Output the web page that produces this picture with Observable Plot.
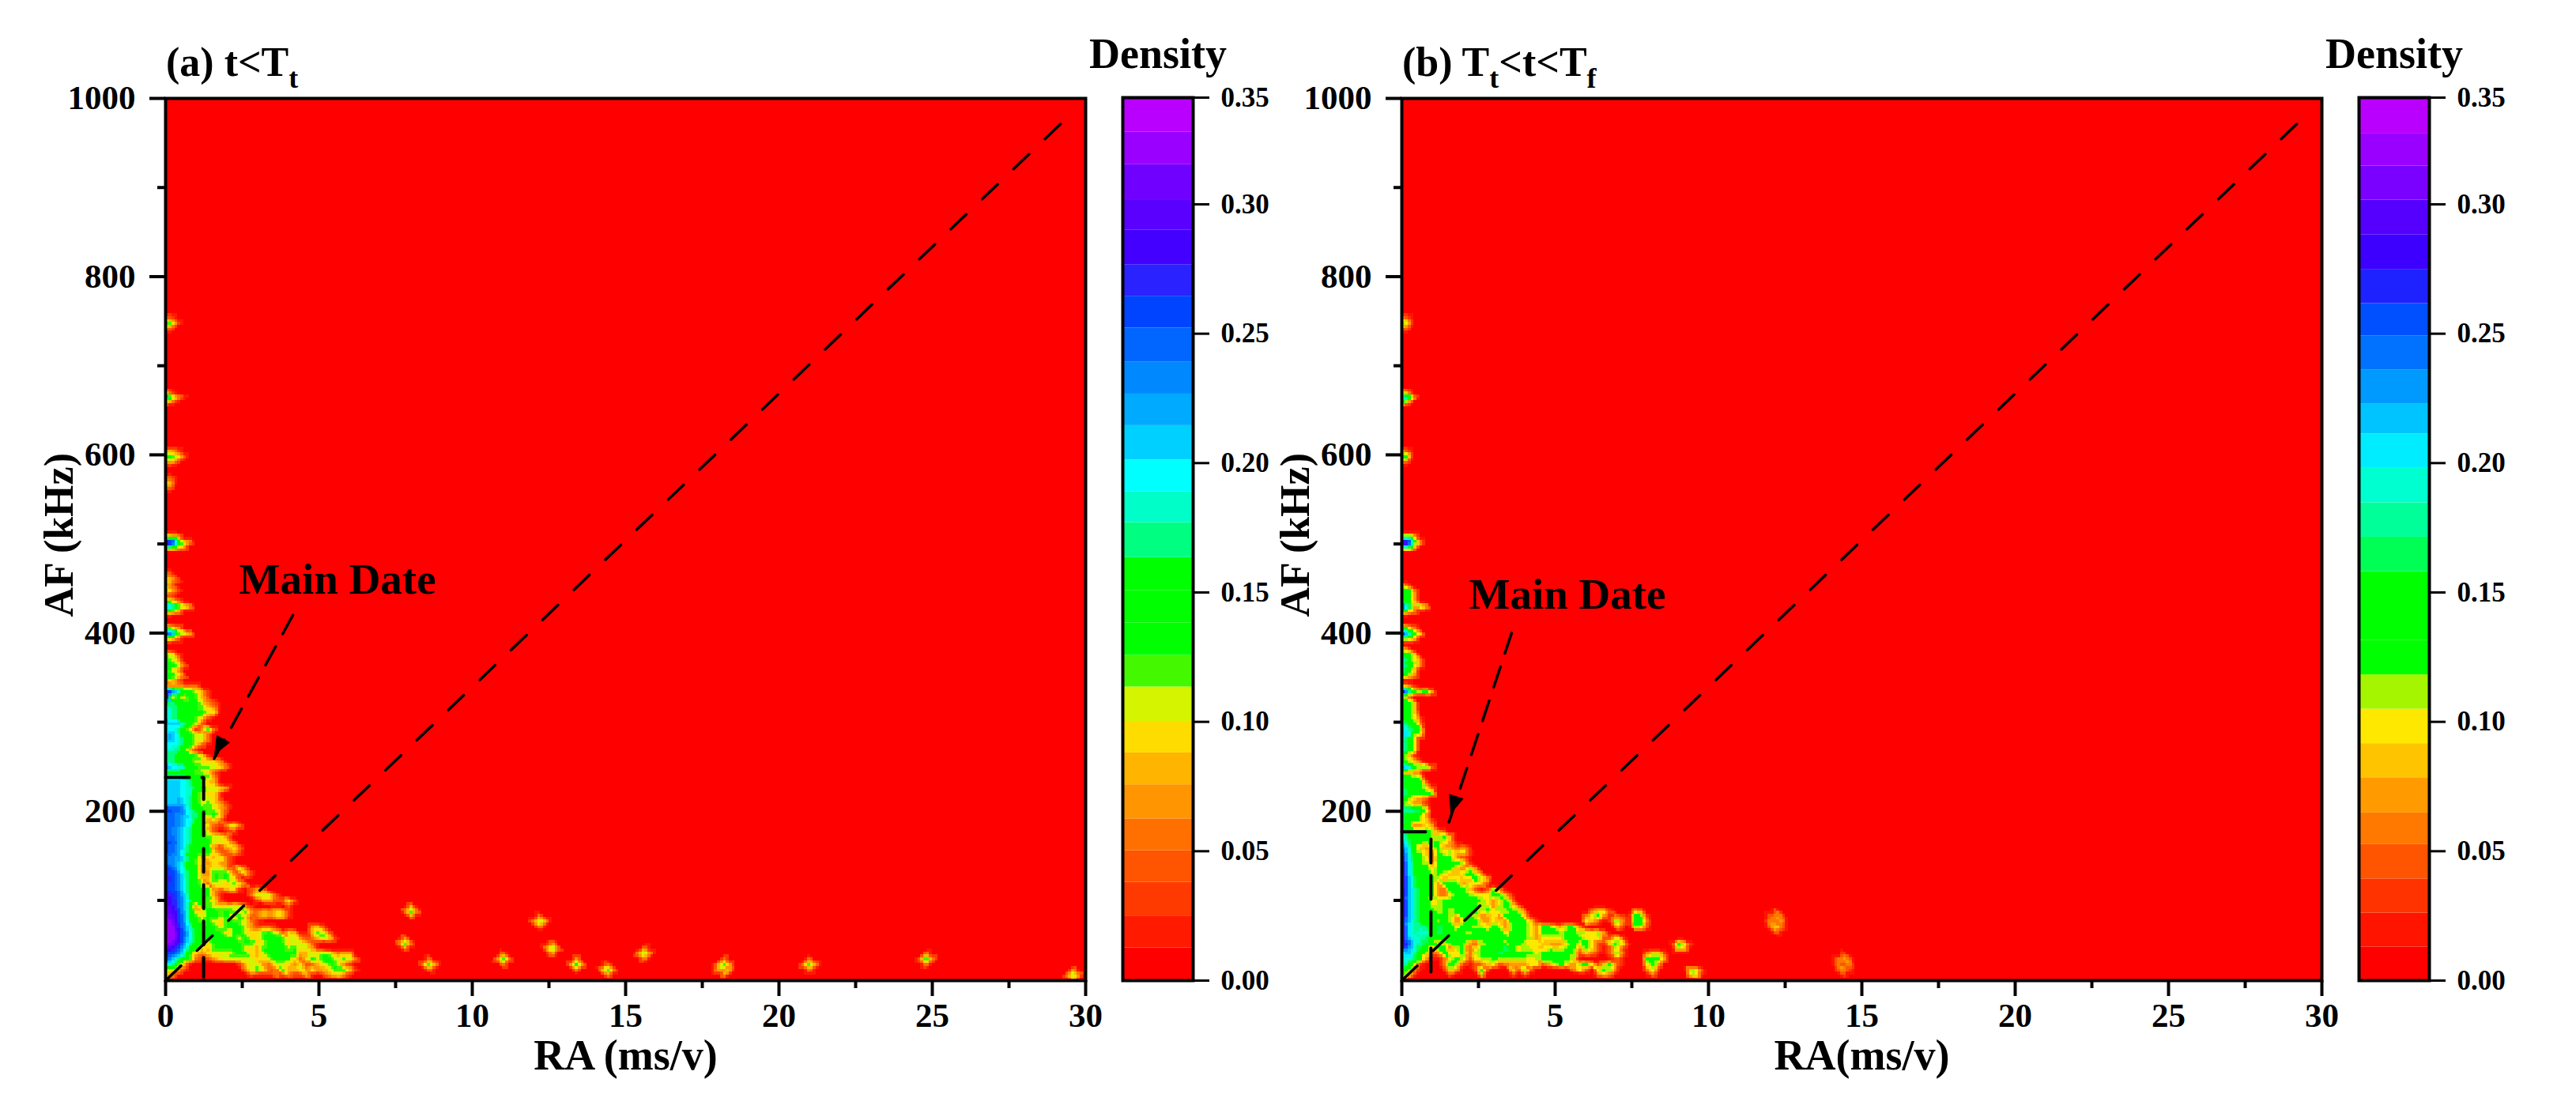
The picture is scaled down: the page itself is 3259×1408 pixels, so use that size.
<!DOCTYPE html>
<html>
<head>
<meta charset="utf-8">
<script src="https://cdn.jsdelivr.net/npm/d3@7"></script>
<script src="https://cdn.jsdelivr.net/npm/@observablehq/plot@0.6"></script>
<style>
html,body{margin:0;background:#fff}
#fig{position:relative;width:3259px;height:1408px;overflow:hidden}
#fig>svg{position:absolute;top:0;overflow:visible}
.ttl{position:absolute;top:53px;font:bold 52px "Liberation Serif";line-height:52px;color:#000;white-space:nowrap}
.ttl sub{font-size:36px;line-height:0;vertical-align:-15px}
</style>
</head>
<body>
<div id="fig"></div>
<script>
// Density readings. One char per cell = base-36 density level (12.5e-3 steps); s = above scale.
// Rows run top to bottom; columns are RA = 0, 0.2, 0.4 ...
const startAF_A = 346;
const rowsA = [
"363","655544","pifbb862","o7a7a962","cebbba742","fecbba975","gecbbaa87","gecbb962","gghdb83","ffeb825a3",
"gheba8830","ghecb8840","ffecb730","eedb510","ddcbba72","fdcba87775","igfeba99874","bccbb9873","fffecbb95","gggfdb966",
"gggfeca8885","gggfea8772","gghfda7872","ghhgdb8a762","lkkheba9863","jjiheda9a71","jjigfcb574","jjigeba641585","jjhfdbb62013","jjhfdcb9885",
"kkifdbba8873","kjifcbba52685","kjhecbba63363","jihfba576841","kihdb96576410","lkheba46884384","lkjeca55a9a5373","lljfcb67a8a83","mkjfcb74887a85","mkjfcbaa536720364",
"mlkgcbaa51000048883","nmkhdba972000002663383","omkhb6a98778841000004","pnlhc67aa9a98a5475772","poliba8aa8a7a73465772","qplica9a86aa984100000","qqmiebbaa8aaa85354200000662","qqnjfcbaaa6aa8779a8376117972","qqnjfcbaaaaa8a77aaaa785248a61","qpmieba7aaaaaaa78aaa788731",
"omkgcb76aaaaa876aaaa8a8851","lkiea6478879aa768aaaaa6688a8566","jhdb94235788888778aaa747a8aa8984","gea610000000268854887573468a852","986200000000058a834a66858568aa72","8510000000000031115252271046751","42"
];
const upperA = [
[754,"53"],[748,"a93"],[742,"53"],[670,"72"],[664,"hb62"],[658,"72"],[604,"663"],[598,"ba83"],[592,"663"],[574,"53"],[568,"95"],[562,"52"],
[508,"a86"],[502,"snc85"],[496,"ca85"],[466,"53"],[460,"863"],[454,"64"],[448,"963"],[442,"42"],[436,"a84"],[430,"hgb96"],[424,"a86"],
[406,"a85"],[400,"mib96"],[394,"b84"],
[376,"a83"],[370,"b86"],[364,"db94"],[358,"b85"],[352,"cb84"]
];
// [RA, AF, level at the core, level on the rim]
const spotsA = [
[8.0,88,"a","5"],[12.2,76,"a","5"],[7.8,52,"a","5"],[12.6,46,"a","5"],[15.6,40,"a","5"],[24.8,34,"b","5"],[11.0,34,"a","5"],[8.6,28,"a","5"],
[21.0,28,"a","5"],[13.4,28,"b","5"],[14.4,22,"b","5"],[18.2,22,"b","6"],[18.2,28,"a","5"],[29.6,16,"a","5"]
];
const startAF_B = 220;
const rowsB = [
"fcaaa8","c9653","a7552","gfed9","daa95","eba962","ca5575","fbaaa852","gcbaa88a5","hdbaa9985",
"jfa658a55352","lga965a79683","mgba74aa9531","nhca85aaaa82","ohcaa7aaa6485","ohcaa8a8668a85","pidbaa858876a86","pidbaa5aaa58762","oiebaa54aaa7313a51","oieba9548aa9878aa52",
"niebb78aaaaaa9758a4","oiebb88aaacaa8858a84",
"oiebba8a8acaa8a888a850000000000488300065",
"oiebbbaa85aa85585aaa720000000058a41531aa3",
"mhebba8a858aa75775aaa73000000086302a51aa4",
"qgeedadca7aa887a85aaa85aa85aa510000620883",
"pgeffadbaaa8aaaca7aca85aaa8aa88785",
"ohfedaabaadaaaabaaaca857888aaa7883383",
"okfeca78aaa538aaa8aa87875558a8a7338a810000002a82",
"kifca6aa48a37aaaaea78876878aa5a83138300000000871",
"ghea835a77a48aaadcaaaa8aacaaa364113a40005883",
"gfda51148a83788a8888878aacaa710000141000aaa4",
"ed820005a83134673455577368a758a837a410008a5",
"ca51000385003a300083a400000058408a8300005810000883",
"a7200000300007000030300000000000464000001400000781",
"6"
];
const upperB = [
[754,"53"],[748,"a7"],[742,"53"],[670,"84"],[664,"jf6"],[658,"84"],[604,"63"],[598,"d8"],[592,"63"],[508,"dc7"],[502,"snb6"],[496,"dc7"],
[454,"63"],[448,"ba5"],[442,"bb6"],[436,"cb6"],[430,"mf6a6"],[424,"a65"],
[406,"a84"],[400,"mgb7"],[394,"ba7"],[382,"74"],[376,"ba8"],[370,"ia85"],[364,"gb95"],[358,"fa7"],[352,"a85"],[340,"973"],[334,"ofa8a5"],[328,"95"],
[322,"ba7"],[316,"ba7"],[310,"ba8"],[304,"ca83"],[298,"fcb5"],[292,"gfb9"],[286,"hga8"],[280,"fb8"],[274,"gc8"],[268,"gb8"],
[262,"a73"],[256,"9973"],[250,"iga9a4"],[244,"8553"],[238,"dba8"],[232,"ebaa4"],[226,"dbaa84"]
];
const spotsB = [
[12.2,84,"7","4"],[12.2,78,"b","5"],[12.2,72,"7","4"],[14.4,34,"7","4"],[14.4,28,"b","5"],[14.4,22,"5","3"]
];

// Colour bands (thresholds in density)
const thresholdsA = [.0127,.025,.038,.0502,.0625,.0757,.088,.1002,.1135,.1257,.1382,.1507,.1635,.177,.189,.2012,.2145,.2267,.239,.2522,.2645,.2767,.29,.3022,.3186,.3338];
const colorsA = ["#ff0000","#ff1a00","#ff3a00","#ff5500","#ff7000","#ff9500","#ffb400","#ffdc00","#d4f400","#44f800","#00ff00","#00ff00","#00ff00","#00ff80","#00ffc8","#00ffff","#00d0ff","#00aaff","#0088ff","#0066ff","#0044ff","#2a22ff","#4400ff","#5a00ff","#7000ff","#9a00ff","#b900ff"];
const thresholdsB = [.013,.0261,.0393,.0526,.0648,.0782,.0916,.1049,.1182,.1315,.1448,.1581,.1714,.1847,.198,.2113,.2228,.2361,.2492,.2617,.2749,.2883,.302,.318,.333];
const colorsB = ["#ff0000","#ff1400","#ff3300","#ff5500","#ff7800","#ff9a00","#ffc400","#ffe800","#a6f500","#00ff00","#00ff00","#00ff00","#00ff55","#00ff99","#00ffd0","#00ecff","#00c4ff","#009aff","#0072ff","#0050ff","#1e22ff","#3d00ff","#5500ff","#7a00ff","#9a00ff","#b900ff"];
const colorbarTicks = [0,0.05,0.10,0.15,0.20,0.25,0.30,0.35];

const raMajor = [0,5,10,15,20,25,30];
const raMinor = [2.5,7.5,12.5,17.5,22.5,27.5];
const afMajor = [200,400,600,800,1000];
const afMinor = [100,300,500,700,900];

// Annotation lines, in data units
const diagonalA = [{x:0,y:10},{x:29.6,y:985}];
const boxA = [{x:0,y:238},{x:1.24,y:238},{x:1.24,y:14}];
const arrowA = [{x:4.15,y:420},{x:1.5,y:254}];
const headA = {x:1.6,y:264,rotate:209};
const labelA = {x:2.4,y:460,text:"Main Date"};
const diagonalB = [{x:0,y:10},{x:29.6,y:985}];
const boxB = [{x:0,y:177},{x:0.95,y:177},{x:0.95,y:10}];
const arrowB = [{x:3.58,y:400},{x:1.52,y:186}];
const headB = {x:1.6,y:198,rotate:198};
const labelB = {x:2.19,y:443,text:"Main Date"};

const serif = "Liberation Serif";
const raStep = 0.2, afStep = 6;
const nCols = 151, nRows = 166;
const density = ch => { const l = parseInt(ch,36); return l === 0 ? 0 : l*0.0125+0.006; };

function field(startAF, rows, upper, spots){
  const g = new Float64Array(nCols*nRows);
  const put = (af, col, ch) => { g[Math.round((af-10)/afStep)*nCols+col] = density(ch); };
  rows.forEach((s,k)=>{ [...s].forEach((c,j)=>put(startAF-afStep*k,j,c)); });
  upper.forEach(([af,s])=>{ [...s].forEach((c,j)=>put(af,j,c)); });
  spots.forEach(([ra,af,core,rim])=>{
    const col = Math.round(ra/raStep);
    put(af,col,core);
    put(af,col-1,rim); put(af,col+1,rim);
    put(af-afStep,col,rim); put(af+afStep,col,rim);
  });
  const pts = [];
  for(let r=0;r<nRows;r++) for(let c=0;c<nCols;c++) pts.push({ra:c*raStep,af:10+r*afStep,d:g[r*nCols+c]});
  return pts;
}

const fig = document.getElementById("fig");
function place(el,left){ el.style.left = left+"px"; fig.appendChild(el); }

function panel(o){
  const plot = Plot.plot({
    width:1400, height:1408, marginLeft:209, marginRight:27, marginTop:124, marginBottom:168,
    style:{background:"transparent"},
    x:{domain:[0,30],label:null},
    y:{domain:[10,1000],label:null},
    color:{type:"threshold",domain:[...o.thresholds,0.35],range:[...o.colors,"#ffffff"]},
    marks:[
      Plot.raster(o.cells,{x:"ra",y:"af",fill:"d",interpolate:"barycentric",pixelSize:3.67,imageRendering:"pixelated"}),
      Plot.line(o.diagonal,{x:"x",y:"y",stroke:"#000",strokeWidth:3.5,strokeDasharray:"27,28"}),
      Plot.line(o.box,{x:"x",y:"y",stroke:"#000",strokeWidth:4,strokeDasharray:"30,16"}),
      Plot.line(o.arrow,{x:"x",y:"y",stroke:"#000",strokeWidth:3.5,strokeDasharray:"27,18"}),
      Plot.vector([o.head],{x:"x",y:"y",rotate:"rotate",length:24,anchor:"end",fill:"#000",stroke:"#000",strokeWidth:1,
        shape:{draw(ctx,l){ctx.moveTo(0,-l);ctx.lineTo(9,-2);ctx.lineTo(-9,-2);ctx.closePath();}}}),
      Plot.text([o.label],{x:"x",y:"y",text:"text",textAnchor:"start",fontFamily:serif,fontWeight:"bold",fontSize:55,fill:"#000"}),
      Plot.frame({stroke:"#000",strokeWidth:4}),
      Plot.axisX({ticks:raMajor,tickSize:20,tickPadding:8,strokeWidth:4,fontSize:43,fontWeight:"bold",fontFamily:serif,label:null,tickFormat:String}),
      Plot.axisX({ticks:raMinor,tickSize:10,strokeWidth:4,text:null,label:null}),
      Plot.axisY({ticks:afMajor,tickSize:20,tickPadding:18,strokeWidth:4,fontSize:43,fontWeight:"bold",fontFamily:serif,label:null,tickFormat:String}),
      Plot.axisY({ticks:afMinor,tickSize:10,strokeWidth:4,text:null,label:null}),
      Plot.text([o.xLabel],{frameAnchor:"bottom",dy:112,fontFamily:serif,fontWeight:"bold",fontSize:54,fill:"#000"}),
      Plot.text([o.yLabel],{frameAnchor:"left",dx:-134,dy:98,rotate:-90,fontFamily:serif,fontWeight:"bold",fontSize:52,fill:"#000"})
    ]
  });
  place(plot,o.left);
  const t = document.createElement("div");
  t.className="ttl"; t.style.left=(o.left+210)+"px"; t.innerHTML=o.title; fig.appendChild(t);
}

function colorbar(o){
  const edges = [0,...o.thresholds,0.35];
  const bands = o.colors.map((c,i)=>({lo:edges[i],hi:edges[i+1],c}));
  const plot = Plot.plot({
    width:250, height:1408, marginLeft:50, marginRight:111, marginTop:123, marginBottom:168,
    style:{background:"transparent"},
    x:{domain:[0,1],axis:null},
    y:{type:"linear",domain:[0,0.30,0.35],range:[1240,258,123],label:null},
    marks:[
      Plot.rect(bands,{x1:()=>0,x2:()=>1,y1:"lo",y2:"hi",fill:"c"}),
      Plot.frame({stroke:"#000",strokeWidth:4}),
      Plot.axisY({anchor:"right",ticks:colorbarTicks,tickSize:20,tickPadding:15,strokeWidth:3,fontSize:35,fontWeight:"bold",fontFamily:serif,label:null,tickFormat:d3.format(".2f")}),
      Plot.text(["Density"],{frameAnchor:"top",dy:-76,fontFamily:serif,fontWeight:"bold",fontSize:54,fill:"#000"})
    ]
  });
  place(plot,o.left);
}

panel({left:0,cells:field(startAF_A,rowsA,upperA,spotsA),thresholds:thresholdsA,colors:colorsA,diagonal:diagonalA,box:boxA,arrow:arrowA,head:headA,label:labelA,
  xLabel:"RA (ms/v)",yLabel:"AF (kHz)",title:"(a) t&lt;T<sub>t</sub>"});
panel({left:1564,cells:field(startAF_B,rowsB,upperB,spotsB),thresholds:thresholdsB,colors:colorsB,diagonal:diagonalB,box:boxB,arrow:arrowB,head:headB,label:labelB,
  xLabel:"RA(ms/v)",yLabel:"AF (kHz)",title:"(b) T<sub>t</sub>&lt;t&lt;T<sub>f</sub>"});
colorbar({left:1370,thresholds:thresholdsA,colors:colorsA});
colorbar({left:2934,thresholds:thresholdsB,colors:colorsB});
</script>
</body>
</html>
